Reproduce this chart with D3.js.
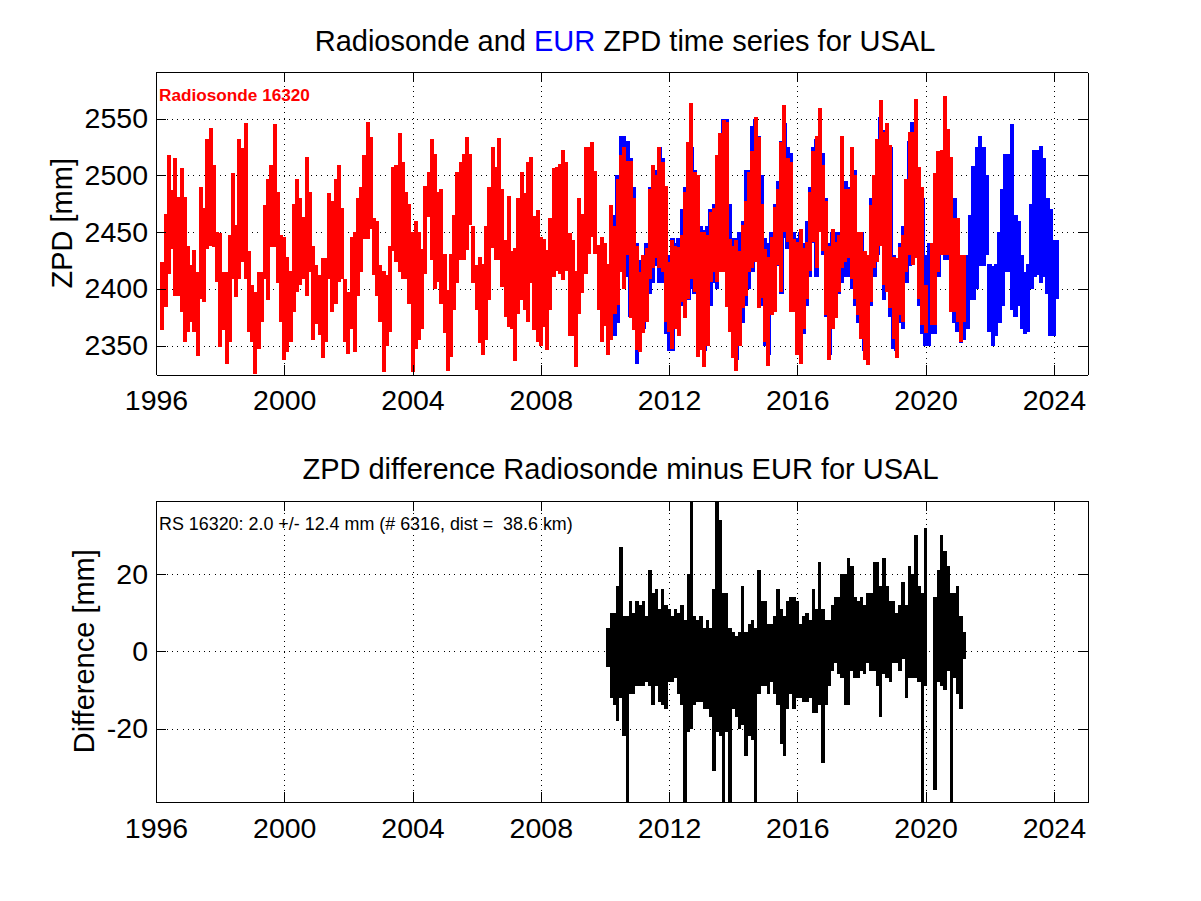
<!DOCTYPE html>
<html><head><meta charset="utf-8">
<script src="https://cdnjs.cloudflare.com/ajax/libs/d3/7.8.5/d3.min.js"></script>
<style>
html,body{margin:0;padding:0;background:#fff}
svg{display:block}
text{font-family:"Liberation Sans",Arial,sans-serif;fill:#000}
</style></head><body>
<svg id="c" width="1201" height="901"></svg>
<script>
const yearTicks=[1996,2000,2004,2008,2012,2016,2020,2024];
const zpdTicks=[2350,2400,2450,2500,2550];
const diffTicks=[-20,0,20];
const xDomain=[1996,2025.05];
const zpdDomain=[2324.5,2591];
const diffDomain=[-39,39];

// Each sample period is read as its highest and lowest value.
const radiosondeStart=1996.2, radiosondeStep=0.1;
const radiosondeHigh=[
2424,2466,2518,2487,2515,2481,2506,2481,2438,2421,
2434,2415,2490,2471,2532,2542,2509,2450,2449,2415,
2415,2447,2502,2456,2532,2524,2546,2433,2403,2397,
2415,2415,2474,2497,2509,2545,2485,2447,2446,2428,
2416,2475,2497,2480,2463,2516,2485,2438,2421,2412,
2427,2427,2484,2477,2497,2509,2471,2409,2397,2446,
2450,2480,2490,2518,2547,2534,2462,2460,2421,2416,
2412,2438,2507,2509,2537,2512,2485,2475,2450,2460,
2450,2435,2491,2503,2532,2519,2485,2488,2431,2399,
2431,2465,2503,2512,2519,2534,2519,2455,2421,2428,
2422,2455,2490,2525,2507,2533,2488,2443,2482,2433,
2436,2480,2503,2484,2512,2516,2464,2469,2446,2444,
2434,2462,2506,2507,2510,2522,2512,2449,2443,2416,
2480,2466,2525,2525,2529,2504,2439,2446,2440,2422,
2474,2455,2497,2518,2525,2513,2513,2480,2438,2415,
2430,2436,2488,2509,2500,2525,2512,2491,2424,2443,
2438,2437,2447,2485,2529,2564,2503,2500,2450,2450,
2447,2468,2471,2518,2537,2549,2547,2444,2438,2443,
2433,2456,2477,2503,2521,2551,2534,2475,2435,2428,
2446,2472,2488,2529,2562,2515,2512,2444,2441,2453,
2436,2441,2485,2521,2535,2559,2509,2477,2438,2453,
2441,2447,2535,2488,2488,2525,2500,2450,2450,2433,
2430,2474,2500,2532,2566,2538,2546,2527,2428,2427,
2437,2447,2497,2538,2538,2567,2507,2490,2403,null,
2440,2502,2521,2522,2570,2541,2516,2462,2462,2430,
2430];
const radiosondeLow=[
2364,2384,2413,2435,2394,2394,2380,2353,2362,2371,
2362,2341,2391,2388,2435,2438,2437,2406,2349,2364,
2334,2353,2409,2393,2409,2424,2409,2362,2353,2325,
2347,2371,2409,2390,2437,2437,2405,2371,2337,2344,
2353,2380,2397,2403,2409,2394,2415,2355,2369,2359,
2339,2353,2409,2380,2387,2406,2409,2353,2343,2365,
2344,2394,2415,2444,2444,2453,2412,2394,2371,2327,
2350,2362,2433,2424,2415,2409,2409,2387,2327,2347,
2355,2365,2413,2463,2425,2400,2406,2387,2361,2328,
2340,2381,2405,2425,2425,2434,2456,2405,2381,2352,
2342,2355,2390,2436,2425,2425,2402,2375,2366,2365,
2336,2378,2390,2381,2371,2405,2364,2353,2350,2366,
2346,2381,2410,2416,2413,2408,2416,2358,2358,2331,
2378,2396,2413,2431,2446,2431,2381,2353,2367,2342,
2355,2378,2386,2415,2400,2430,2374,2364,2346,2344,
2361,2371,2409,2418,2427,2418,2415,2371,2362,2347,
2365,2358,2388,2374,2391,2409,2397,2340,2346,2331,
2350,2406,2415,2406,2415,2415,2384,2362,2339,2328,
2350,2383,2394,2415,2418,2424,2383,2392,2353,2332,
2377,2380,2421,2397,2450,2441,2380,2380,2342,2334,
2365,2391,2416,2441,2418,2450,2433,2377,2337,2365,
2374,2397,2418,2424,2427,2409,2391,2377,2356,2337,
2333,2388,2418,2424,2438,2403,2397,2383,2356,2339,
2377,2371,2415,2430,2421,2427,2391,2368,2361,null,
2368,2368,2415,2430,2430,2430,2380,2380,2371,2353,
2371];

const eurStart=2010.3, eurStep=0.1;
const eurHigh=[
2465,2500,2535,2535,2530,2515,2490,2440,2425,2430,
2440,2490,2505,2505,2525,2515,2480,2430,2445,2440,
2445,2470,2490,2520,2525,2505,2500,2455,2452,2455,
2470,2475,2510,2530,2550,2550,2475,2445,2445,2450,
2460,2505,2505,2543,2550,2535,2500,2445,2440,2450,
2475,2495,2530,2546,2525,2520,2450,2445,2450,2440,
2460,2490,2525,2532,2545,2520,2480,2440,2450,2450,
2450,2515,2495,2490,2520,2505,2450,2450,2430,2430,
2480,2500,2525,2551,2540,2525,2525,2430,2425,2440,
2455,2495,2530,2547,2550,2500,2480,2430,2440,2430,
2470,2510,2520,2530,2540,2510,2480,2450,2430,2425,
2430,2465,2508,2525,2535,2525,2500,2422,2420,2422,
2450,2488,2519,2519,2545,2465,2460,2430,2415,2422,
2475,2522,2522,2526,2515,2480,2470,2443,2443];
const eurLow=[
2358,2370,2420,2400,2410,2375,2365,2334,2345,2365,
2372,2395,2405,2420,2405,2405,2360,2345,2345,2370,
2380,2385,2375,2390,2400,2395,2350,2355,2345,2355,
2385,2405,2400,2415,2420,2400,2370,2345,2337,2355,
2370,2385,2400,2415,2425,2395,2385,2350,2342,2380,
2390,2420,2395,2445,2435,2390,2385,2345,2342,2360,
2385,2410,2440,2410,2450,2430,2375,2342,2370,2378,
2395,2405,2410,2410,2400,2385,2370,2365,2345,2337,
2385,2410,2430,2440,2390,2405,2375,2347,2345,2370,
2365,2405,2420,2425,2430,2385,2360,2350,2350,2360,
2360,2410,2435,2425,2425,2385,2370,2362,2352,2355,
2365,2390,2390,2400,2420,2420,2430,2362,2350,2358,
2370,2385,2415,2415,2381,2375,2385,2365,2360,2362,
2400,2410,2412,2405,2410,2395,2358,2358,2391];

const diffStart=2010.1, diffStep=0.1;
const diffHigh=[
6,10,10,17,27,9,9,13,10,13,
12,13,9,21,15,16,11,16,12,11,
9,11,10,12,8,20,39,9,8,9,
6,8,6,16,39,34,15,15,6,5,
4,5,17,5,7,8,6,21,13,13,
7,7,9,16,11,9,13,14,14,13,
7,9,10,8,16,11,23,11,8,8,
12,14,14,20,20,24,22,14,13,14,
12,15,15,23,23,17,24,17,13,13,
10,12,18,12,22,20,30,17,15,32,
null,null,14,21,30,26,22,15,15,17,
9,5];
const diffLow=[
-4,-12,-14,-18,-12,-22,-39,-11,-11,-9,
-9,-9,-8,-9,-14,-9,-13,-14,-15,-8,
-8,-7,-11,-14,-39,-21,-20,-14,-13,-13,
-15,-15,-17,-31,-21,-22,-39,-21,-39,-15,
-17,-20,-19,-27,-22,-23,-39,-11,-9,-9,
-11,-8,-11,-14,-24,-27,-15,-11,-15,-12,
-12,-13,-13,-12,-16,-16,-14,-29,-14,-9,
-5,-3,-6,-7,-14,-14,-5,-7,-7,-5,
-6,-3,-5,-5,-9,-17,-6,-7,-8,-3,
-3,-5,-2,-12,-7,-7,-7,-8,-39,-9,
null,null,-36,-8,-9,-10,-5,-39,-7,-11,
-15,-2];

const svg=d3.select("#c");
const left=156,right=1087.5;
const fontStack='"Liberation Sans",Arial,sans-serif';

function panel(id,top,bottom,yDomain,yTicks,yLabel,labelX){
  const x=d3.scaleLinear().domain(xDomain).range([left,right]);
  const y=d3.scaleLinear().domain(yDomain).range([bottom,top]);
  const g=svg.append("g");
  const h=bottom-top,w=right-left;
  g.append("clipPath").attr("id",id).append("rect").attr("x",left).attr("y",top).attr("width",w).attr("height",h);
  const grid=g.append("g");
  grid.selectAll("line.v").data(yearTicks).join("line").attr("class","v")
    .attr("x1",d=>Math.round(x(d))+.5).attr("x2",d=>Math.round(x(d))+.5).attr("y1",bottom).attr("y2",top)
    .attr("stroke","#000").attr("stroke-width",1).attr("stroke-dasharray","1 4.33").attr("shape-rendering","crispEdges");
  grid.selectAll("line.h").data(yTicks).join("line").attr("class","h")
    .attr("y1",d=>Math.round(y(d))+.5).attr("y2",d=>Math.round(y(d))+.5).attr("x1",left).attr("x2",right)
    .attr("stroke","#000").attr("stroke-width",1).attr("stroke-dasharray","1 4.33").attr("shape-rendering","crispEdges");
  const series=g.append("g").attr("clip-path",`url(#${id})`);
  const bot=g.append("g").attr("transform",`translate(0,${bottom})`)
    .call(d3.axisBottom(x).tickValues(yearTicks).tickFormat(String).tickSizeInner(-10).tickSizeOuter(0));
  const topA=g.append("g").attr("transform",`translate(0,${top})`)
    .call(d3.axisTop(x).tickValues(yearTicks).tickFormat("").tickSizeInner(-10).tickSizeOuter(0));
  const lf=g.append("g").attr("transform",`translate(${left},0)`)
    .call(d3.axisLeft(y).tickValues(yTicks).tickFormat(String).tickSizeInner(-10).tickSizeOuter(0).tickPadding(8));
  const rt=g.append("g").attr("transform",`translate(${right},0)`)
    .call(d3.axisRight(y).tickValues(yTicks).tickFormat("").tickSizeInner(-10).tickSizeOuter(0));
  [bot,topA,lf,rt].forEach(a=>{
    a.selectAll("path,line").attr("stroke","#000").attr("stroke-width",1).attr("shape-rendering","crispEdges");
    a.selectAll("text").attr("font-size",28.5).attr("fill","#000").style("font-family",fontStack);
  });
  bot.selectAll("text").attr("dy","0.35em").attr("y",26);
  g.append("text").attr("transform",`translate(${labelX},${(top+bottom)/2}) rotate(-90)`)
    .attr("text-anchor","middle").attr("font-size",29).text(yLabel);
  return {x,y,series};
}

// One vertical stroke per sample period, from its low to its high.
function draw(p,start,step,hi,lo,color,width){
  const rows=hi.map((v,i)=>({t:start+step*i,hi:v,lo:lo[i]})).filter(d=>d.hi!==null);
  p.series.append("g").selectAll("line").data(rows).join("line")
    .attr("x1",d=>p.x(d.t)).attr("x2",d=>p.x(d.t))
    .attr("y1",d=>p.y(d.hi)).attr("y2",d=>p.y(d.lo))
    .attr("stroke",color).attr("stroke-width",width).attr("shape-rendering","crispEdges");
}

const p1=panel("clipTop",72,374.5,zpdDomain,zpdTicks,"ZPD [mm]",72);
draw(p1,eurStart,eurStep,eurHigh,eurLow,"#0000ff",4.5);
draw(p1,radiosondeStart,radiosondeStep,radiosondeHigh,radiosondeLow,"#ff0000",4);

const p2=panel("clipBot",500.5,802,diffDomain,diffTicks,"Difference [mm]",94);
draw(p2,diffStart,diffStep,diffHigh,diffLow,"#000",3.4);

const title=svg.append("text").attr("x",625).attr("y",51).attr("text-anchor","middle").attr("font-size",29);
title.append("tspan").text("Radiosonde and ");
title.append("tspan").style("fill","#0000ff").text("EUR");
title.append("tspan").text(" ZPD time series for USAL");
svg.append("text").attr("x",620.5).attr("y",479).attr("text-anchor","middle").attr("font-size",29)
  .text("ZPD difference Radiosonde minus EUR for USAL");
svg.append("text").attr("x",159).attr("y",101).attr("font-size",17.2).attr("font-weight","bold").style("fill","#ff0000")
  .text("Radiosonde 16320");
svg.append("text").attr("x",159).attr("y",530).attr("font-size",17.9).attr("xml:space","preserve")
  .text("RS 16320: 2.0 +/- 12.4 mm (# 6316, dist =  38.6 km)");
</script>
</body></html>
